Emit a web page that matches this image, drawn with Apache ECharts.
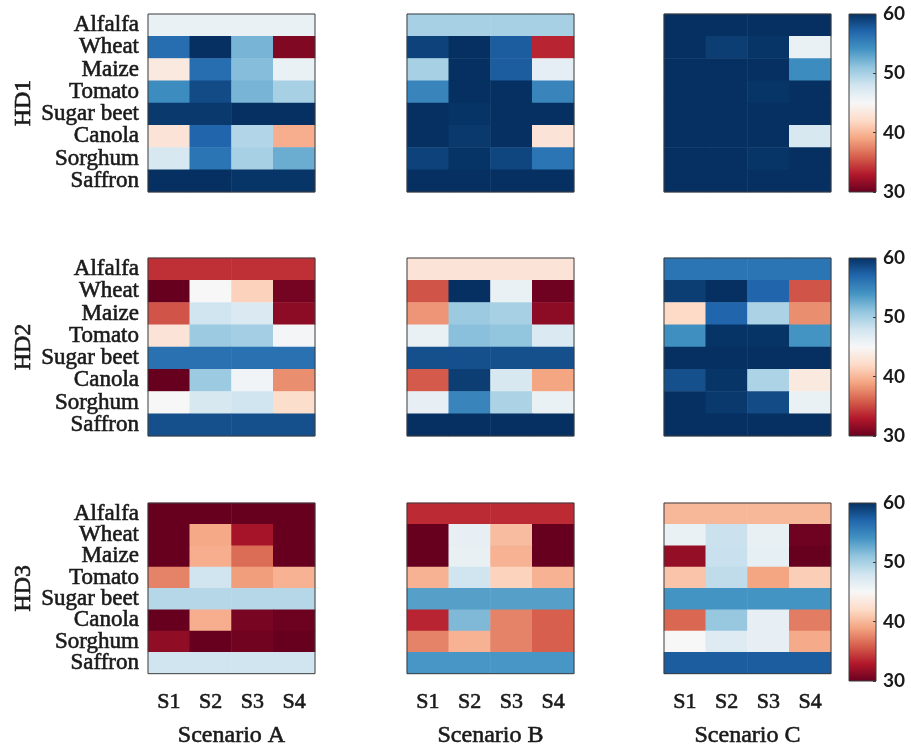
<!DOCTYPE html>
<html>
<head>
<meta charset="utf-8">
<title>Heat-day scores by crop and scenario</title>
<script src="https://cdn.jsdelivr.net/npm/echarts@6/dist/echarts.min.js"></script>
<style>
  html, body { margin: 0; padding: 0; background: #ffffff; }
  #chart { width: 911px; height: 749px; }
</style>
</head>
<body>
<div id="chart"></div>
<script>
// Crops (rows, top to bottom) and sub-scenarios (columns)
const crops = ['Alfalfa', 'Wheat', 'Maize', 'Tomato', 'Sugar beet', 'Canola', 'Sorghum', 'Saffron'];
const subScenarios = ['S1', 'S2', 'S3', 'S4'];
const scenarioNames = ['Scenario A', 'Scenario B', 'Scenario C'];
const hdNames = ['HD1', 'HD2', 'HD3'];

// Colour scale range and colorbar ticks
const scaleMin = 30;
const scaleMax = 60;
const scaleStep = 10;

// Values per crop row, columns S1..S4
const hd1A = [
  [46, 46, 46, 46],
  [56.5, 60, 52, 31],
  [43.5, 56.5, 51.5, 46],
  [54.5, 58.5, 52, 50],
  [59.5, 59.5, 60, 60],
  [43, 57, 49.5, 39.5],
  [47.5, 56, 50, 52.5],
  [60, 60, 59.7, 59.7]
];
const hd1B = [
  [50, 50, 50, 50],
  [59, 60, 57.5, 33.5],
  [50, 60, 57.5, 46.5],
  [55, 60, 60, 55],
  [60, 59.8, 60, 60],
  [60, 59.5, 60, 43],
  [59, 59.8, 58.8, 56],
  [60, 60, 60, 60]
];
const hd1C = [
  [60, 60, 60, 60],
  [60, 59.3, 59.7, 46],
  [60, 60, 60, 54.5],
  [60, 60, 59.7, 60],
  [60, 60, 60, 60],
  [60, 60, 60, 47.5],
  [60, 60, 59.7, 60],
  [60, 60, 60, 60]
];
const hd2A = [
  [34, 34, 34, 34],
  [30, 45, 41.5, 30.5],
  [35.5, 48, 47.3, 31.5],
  [43, 50.5, 50.2, 45.3],
  [56.3, 56.3, 56.3, 56.3],
  [30, 50.5, 45.5, 38],
  [45, 47.5, 48, 42.3],
  [58.3, 58.3, 58.3, 58.3]
];
const hd2B = [
  [43, 43, 43, 43],
  [35.5, 60, 46, 30.3],
  [38.3, 50.5, 50, 31.5],
  [46, 51.3, 51, 47.3],
  [58.3, 58.3, 58.3, 58.3],
  [35.8, 59.3, 47.5, 39],
  [46.3, 55, 49.8, 46],
  [60, 60, 60, 60]
];
const hd2C = [
  [56, 56, 56, 56],
  [59.3, 60, 57, 35.5],
  [42, 57, 49.8, 38],
  [54.3, 59.8, 59.8, 54],
  [60, 60, 60, 60],
  [58.3, 59.7, 49.7, 43.5],
  [60, 59.5, 58.5, 46],
  [60, 60, 60, 60]
];
const hd3A = [
  [30, 30, 30, 30],
  [30, 39.2, 32.5, 30],
  [30, 39.5, 36.5, 30],
  [37.5, 48, 38.7, 39.7],
  [49.3, 49.3, 49.3, 49.3],
  [30, 39.5, 30.7, 30.2],
  [31.6, 30, 30.4, 30],
  [48, 48, 48, 48]
];
const hd3B = [
  [33.8, 33.8, 33.8, 33.8],
  [30, 46.3, 40.3, 30],
  [30, 46.2, 39.7, 30],
  [39.7, 48, 41.6, 39.7],
  [53.3, 53.3, 53.3, 53.3],
  [33.5, 51.7, 37.5, 36],
  [37.5, 39.7, 37.5, 36],
  [53.8, 53.8, 53.8, 53.8]
];
const hd3C = [
  [40, 40, 40, 40],
  [46, 48.3, 46.2, 30.3],
  [31.8, 48.4, 46.4, 30],
  [40.7, 48.8, 39, 41.3],
  [54, 54, 54, 54],
  [36.3, 50.7, 46.3, 37.2],
  [45, 47, 46.3, 39.3],
  [57.5, 57.5, 57.5, 57.5]
];

const panels = [
  [hd1A, hd1B, hd1C],
  [hd2A, hd2B, hd2C],
  [hd3A, hd3B, hd3C]
];

// Diverging red-blue palette, low (red) to high (blue)
const rdBu = ['#67001f', '#b2182b', '#d6604d', '#f4a582', '#fddbc7', '#f7f7f7',
              '#d1e5f0', '#92c5de', '#4393c3', '#2166ac', '#053061'];

// Layout
const colLeft = [148, 407, 664];
const panelW = 167;
const rowTop = [14, 258, 503];
const panelH = 178;
const barLeft = 849;
const barW = 27;

const serif = '"Liberation Serif", "Times New Roman", serif';
const barFont = 'Lato, "Noto Sans", sans-serif';
const textColor = '#1a1a1a';
const frameColor = '#3c3c3c';

// Serif text, slightly thickened with a thin outline of the same colour
function serifStyle(size) {
  return { fontFamily: serif, fontSize: size, color: textColor,
           textBorderColor: textColor, textBorderWidth: 0.6 };
}

const grids = [], xAxes = [], yAxes = [], series = [], visualMaps = [];

function toCells(rows) {
  const cells = [];
  rows.forEach((row, r) => row.forEach((v, c) => cells.push([c, r, v])));
  return cells;
}

for (let r = 0; r < 3; r++) {
  const rowSeries = [];
  for (let c = 0; c < 3; c++) {
    const idx = grids.length;
    grids.push({
      left: colLeft[c], top: rowTop[r], width: panelW, height: panelH,
      show: true, borderColor: frameColor, borderWidth: 1,
      backgroundColor: 'transparent', z: 10
    });
    const bottomRow = r === 2;
    xAxes.push({
      type: 'category', gridIndex: idx, data: subScenarios,
      axisLine: { show: false }, axisTick: { show: false }, splitLine: { show: false },
      axisLabel: Object.assign({ show: bottomRow, interval: 0, margin: 18 }, serifStyle(22)),
      name: bottomRow ? scenarioNames[c] : '', nameLocation: 'middle', nameGap: 50,
      nameTextStyle: serifStyle(24)
    });
    const firstCol = c === 0;
    yAxes.push({
      type: 'category', gridIndex: idx, data: crops, inverse: true,
      axisLine: { show: false }, axisTick: { show: false }, splitLine: { show: false },
      axisLabel: Object.assign({ show: firstCol, interval: 0, margin: 9 }, serifStyle(23)),
      name: firstCol ? hdNames[r] : '', nameLocation: 'middle', nameGap: 112, nameRotate: 90,
      nameTextStyle: serifStyle(24)
    });
    rowSeries.push(series.length);
    series.push({
      type: 'heatmap', xAxisIndex: idx, yAxisIndex: idx,
      data: toCells(panels[r][c]), z: 1,
      itemStyle: { borderWidth: 0 },
      emphasis: { disabled: true }
    });
  }
  visualMaps.push({
    type: 'continuous', show: false, min: scaleMin, max: scaleMax,
    seriesIndex: rowSeries, inRange: { color: rdBu }
  });
}

// Colorbars: one per row, a gradient-filled grid carrying a value axis
const barStops = rdBu.map((col, i) => ({ offset: i / (rdBu.length - 1), color: col }));
for (let r = 0; r < 3; r++) {
  const idx = grids.length;
  grids.push({
    left: barLeft, top: rowTop[r], width: barW, height: panelH,
    show: true, borderColor: frameColor, borderWidth: 1,
    backgroundColor: { type: 'linear', x: 0, y: 1, x2: 0, y2: 0, colorStops: barStops }
  });
  xAxes.push({
    type: 'category', gridIndex: idx, data: [''], show: false
  });
  yAxes.push({
    type: 'value', gridIndex: idx, position: 'right',
    min: scaleMin, max: scaleMax, interval: scaleStep,
    axisLine: { show: false }, splitLine: { show: false },
    axisTick: { show: true, inside: true, length: 3, lineStyle: { color: frameColor } },
    axisLabel: { margin: 7, fontFamily: barFont, fontWeight: 'bold', fontSize: 19, color: textColor }
  });
}

const chart = echarts.init(document.getElementById('chart'), null, { renderer: 'canvas' });
chart.setOption({
  backgroundColor: '#ffffff',
  animation: false,
  grid: grids,
  xAxis: xAxes,
  yAxis: yAxes,
  visualMap: visualMaps,
  series: series
});
</script>
</body>
</html>
